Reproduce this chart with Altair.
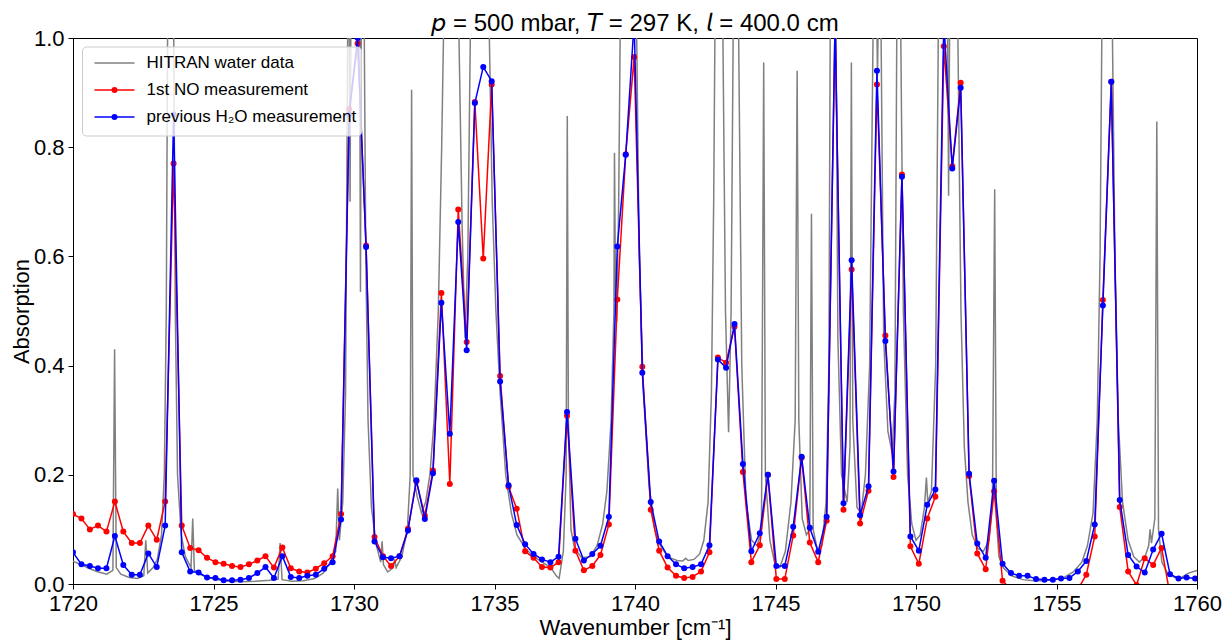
import altair as alt
import pandas as pd

# measurement wavenumber grid (cm^-1)
wn = [1720.00, 1720.30, 1720.60, 1720.89, 1721.19, 1721.49, 1721.79, 1722.09, 1722.38, 1722.68,
      1722.98, 1723.28, 1723.58, 1723.87, 1724.17, 1724.47, 1724.77, 1725.07, 1725.36, 1725.66,
      1725.96, 1726.26, 1726.56, 1726.85, 1727.15, 1727.45, 1727.75, 1728.05, 1728.34, 1728.64,
      1728.94, 1729.24, 1729.54, 1729.83, 1730.13, 1730.43, 1730.73, 1731.03, 1731.32, 1731.62,
      1731.92, 1732.22, 1732.52, 1732.81, 1733.11, 1733.41, 1733.71, 1734.01, 1734.30, 1734.60,
      1734.90, 1735.20, 1735.50, 1735.79, 1736.09, 1736.39, 1736.69, 1736.99, 1737.28, 1737.58,
      1737.88, 1738.18, 1738.48, 1738.77, 1739.07, 1739.37, 1739.67, 1739.97, 1740.26, 1740.56,
      1740.86, 1741.16, 1741.46, 1741.75, 1742.05, 1742.35, 1742.65, 1742.95, 1743.24, 1743.54,
      1743.84, 1744.14, 1744.44, 1744.73, 1745.03, 1745.33, 1745.63, 1745.93, 1746.22, 1746.52,
      1746.82, 1747.12, 1747.42, 1747.71, 1748.01, 1748.31, 1748.61, 1748.91, 1749.20, 1749.50,
      1749.80, 1750.10, 1750.40, 1750.69, 1750.99, 1751.29, 1751.59, 1751.89, 1752.18, 1752.48,
      1752.78, 1753.08, 1753.38, 1753.67, 1753.97, 1754.27, 1754.57, 1754.87, 1755.16, 1755.46,
      1755.76, 1756.06, 1756.36, 1756.65, 1756.95, 1757.25, 1757.55, 1757.85, 1758.14, 1758.44,
      1758.74, 1759.04, 1759.34, 1759.63, 1759.93]

# 1st NO measurement
no_meas = [0.128, 0.120, 0.100, 0.107, 0.096, 0.151, 0.096, 0.075, 0.075, 0.107,
           0.081, 0.151, 0.770, 0.107, 0.066, 0.062, 0.048, 0.040, 0.037, 0.033,
           0.031, 0.036, 0.043, 0.051, 0.030, 0.067, 0.029, 0.023, 0.021, 0.028,
           0.038, 0.051, 0.128, 0.870, 0.990, 0.620, 0.086, 0.051, 0.033, 0.051,
           0.101, 0.188, 0.125, 0.208, 0.533, 0.183, 0.686, 0.443, 0.883, 0.596,
           0.915, 0.381, 0.178, 0.138, 0.060, 0.048, 0.031, 0.030, 0.040, 0.308,
           0.061, 0.025, 0.033, 0.053, 0.109, 0.521, 0.787, 0.965, 0.398, 0.136,
           0.061, 0.030, 0.015, 0.011, 0.013, 0.023, 0.058, 0.415, 0.405, 0.471,
           0.205, 0.040, 0.071, 0.200, 0.009, 0.009, 0.089, 0.231, 0.076, 0.040,
           0.116, 1.030, 0.136, 0.576, 0.111, 0.171, 0.915, 0.455, 0.196, 0.750,
           0.069, 0.037, 0.120, 0.160, 0.985, 0.765, 0.918, 0.198, 0.056, 0.027,
           0.170, 0.006, -0.010, -0.020, -0.030, -0.030, -0.030, -0.030, -0.025, -0.020,
           -0.010, 0.017, 0.087, 0.520, 0.920, 0.141, 0.023, -0.002, 0.047, 0.035,
           0.066, -0.020, -0.030, -0.030, -0.030]

# previous H2O measurement
h2o_meas = [0.058, 0.036, 0.033, 0.029, 0.029, 0.088, 0.035, 0.017, 0.017, 0.056,
            0.031, 0.107, 0.860, 0.058, 0.023, 0.021, 0.012, 0.011, 0.007, 0.007,
            0.008, 0.011, 0.020, 0.031, 0.011, 0.051, 0.013, 0.011, 0.015, 0.017,
            0.028, 0.040, 0.118, 0.860, 1.000, 0.617, 0.078, 0.049, 0.047, 0.051,
            0.098, 0.190, 0.119, 0.203, 0.515, 0.275, 0.663, 0.428, 0.881, 0.947,
            0.921, 0.371, 0.181, 0.108, 0.073, 0.055, 0.045, 0.040, 0.050, 0.315,
            0.083, 0.043, 0.055, 0.070, 0.123, 0.618, 0.786, 1.030, 0.387, 0.150,
            0.078, 0.051, 0.036, 0.029, 0.031, 0.036, 0.071, 0.411, 0.396, 0.476,
            0.220, 0.060, 0.093, 0.200, 0.033, 0.033, 0.105, 0.233, 0.103, 0.059,
            0.123, 1.030, 0.148, 0.593, 0.126, 0.179, 0.940, 0.445, 0.206, 0.746,
            0.087, 0.061, 0.145, 0.173, 1.030, 0.761, 0.909, 0.202, 0.074, 0.048,
            0.189, 0.037, 0.020, 0.015, 0.015, 0.009, 0.008, 0.008, 0.010, 0.011,
            0.023, 0.042, 0.109, 0.510, 0.920, 0.154, 0.053, 0.032, 0.021, 0.063,
            0.092, 0.018, 0.010, 0.012, 0.010]

# HITRAN water spectrum (traced)
hitran_x = [1720.00, 1720.30, 1720.60, 1720.90, 1721.20, 1721.42, 1721.48, 1721.54, 1721.70, 1722.00,
            1722.30, 1722.52, 1722.59, 1722.66, 1722.85, 1723.00, 1723.15, 1723.25, 1723.32, 1723.37,
            1723.58, 1723.64, 1723.72, 1723.85, 1724.00, 1724.20, 1724.26, 1724.32, 1724.50, 1724.80,
            1725.10, 1725.50, 1726.00, 1726.50, 1727.00, 1727.30, 1727.37, 1727.44, 1727.80, 1728.20,
            1728.60, 1728.90, 1729.10, 1729.35, 1729.42, 1729.48, 1729.60, 1729.70, 1729.78, 1729.83,
            1729.86, 1729.89, 1730.20, 1730.23, 1730.26, 1730.36, 1730.42, 1730.50, 1730.62, 1730.80,
            1730.95, 1731.00, 1731.05, 1731.20, 1731.40, 1731.45, 1731.50, 1731.70, 1731.90, 1732.00,
            1732.05, 1732.10, 1732.25, 1732.40, 1732.55, 1732.70, 1732.85, 1733.00, 1733.12, 1733.20,
            1733.72, 1733.85, 1733.95, 1734.05, 1734.15, 1734.80, 1734.92, 1735.05, 1735.20, 1735.40,
            1735.60, 1735.80, 1736.10, 1736.40, 1736.70, 1737.00, 1737.20, 1737.30, 1737.45, 1737.55,
            1737.59, 1737.63, 1737.72, 1737.85, 1738.10, 1738.40, 1738.65, 1738.85, 1739.00, 1739.15,
            1739.25, 1739.27, 1739.31, 1739.35, 1739.42, 1739.48, 1740.05, 1740.15, 1740.30, 1740.50,
            1740.70, 1740.90, 1741.10, 1741.30, 1741.50, 1741.70, 1741.80, 1741.90, 1742.10, 1742.30,
            1742.45, 1742.60, 1742.72, 1742.80, 1742.85, 1743.12, 1743.22, 1743.33, 1743.42, 1743.50,
            1743.68, 1743.80, 1743.95, 1744.15, 1744.35, 1744.50, 1744.58, 1744.64, 1744.80, 1745.00,
            1745.15, 1745.35, 1745.55, 1745.70, 1745.77, 1745.83, 1745.95, 1746.10, 1746.22, 1746.28,
            1746.34, 1746.50, 1746.65, 1746.80, 1746.90, 1746.95, 1747.15, 1747.22, 1747.35, 1747.55,
            1747.65, 1747.70, 1747.75, 1747.90, 1748.05, 1748.20, 1748.35, 1748.48, 1748.60, 1748.63,
            1748.66, 1748.75, 1748.85, 1749.00, 1749.15, 1749.25, 1749.32, 1749.45, 1749.55, 1749.70,
            1749.85, 1750.00, 1750.15, 1750.30, 1750.37, 1750.42, 1750.55, 1750.70, 1750.80, 1751.12,
            1751.16, 1751.20, 1751.48, 1751.60, 1751.72, 1751.85, 1752.00, 1752.20, 1752.40, 1752.60,
            1752.72, 1752.80, 1752.86, 1752.95, 1753.10, 1753.40, 1753.80, 1754.20, 1754.60, 1755.00,
            1755.30, 1755.60, 1755.90, 1756.10, 1756.30, 1756.45, 1756.55, 1756.62, 1756.98, 1757.08,
            1757.20, 1757.35, 1757.55, 1757.75, 1757.95, 1758.15, 1758.28, 1758.33, 1758.38, 1758.50,
            1758.57, 1758.63, 1758.75, 1758.95, 1759.20, 1759.45, 1759.70, 1760.00]
hitran_y = [0.042, 0.035, 0.028, 0.022, 0.018, 0.025, 0.430, 0.030, 0.018, 0.012,
            0.010, 0.015, 0.080, 0.020, 0.030, 0.045, 0.090, 0.200, 0.500, 1.050,
            1.050, 0.500, 0.200, 0.090, 0.050, 0.030, 0.120, 0.025, 0.018, 0.012,
            0.008, 0.005, 0.004, 0.005, 0.007, 0.009, 0.075, 0.008, 0.005, 0.006,
            0.010, 0.020, 0.035, 0.060, 0.175, 0.080, 0.150, 0.350, 1.050, 1.050,
            0.700, 1.050, 1.050, 0.535, 1.050, 1.050, 0.600, 0.300, 0.140, 0.070,
            0.040, 0.078, 0.035, 0.022, 0.030, 0.045, 0.030, 0.050, 0.100, 0.200,
            0.905, 0.200, 0.160, 0.130, 0.150, 0.200, 0.300, 0.500, 0.800, 1.050,
            1.050, 0.650, 0.450, 0.600, 1.050, 1.050, 0.700, 0.500, 0.350, 0.200,
            0.130, 0.090, 0.065, 0.050, 0.040, 0.030, 0.015, 0.010, 0.060, 0.200,
            0.857, 0.300, 0.100, 0.065, 0.048, 0.050, 0.070, 0.110, 0.170, 0.300,
            0.500, 0.790, 0.500, 0.480, 0.700, 1.050, 1.050, 0.600, 0.350, 0.180,
            0.100, 0.070, 0.055, 0.047, 0.043, 0.042, 0.047, 0.043, 0.045, 0.055,
            0.080, 0.150, 0.350, 0.700, 1.050, 1.050, 0.500, 0.278, 0.500, 1.050,
            1.050, 0.400, 0.150, 0.080, 0.070, 0.100, 0.955, 0.200, 0.080, 0.032,
            0.030, 0.060, 0.150, 0.300, 0.940, 0.300, 0.120, 0.090, 0.100, 0.678,
            0.100, 0.060, 0.070, 0.150, 0.400, 1.050, 1.050, 0.450, 0.200, 0.150,
            0.250, 0.955, 0.300, 0.140, 0.130, 0.200, 0.400, 1.050, 1.050, 0.930,
            1.050, 1.050, 0.450, 0.280, 0.240, 0.350, 1.050, 1.050, 0.500, 0.200,
            0.110, 0.080, 0.090, 0.140, 0.195, 0.150, 0.170, 0.400, 1.050, 1.050,
            0.711, 1.050, 1.050, 0.500, 0.250, 0.150, 0.090, 0.065, 0.060, 0.080,
            0.150, 0.723, 0.120, 0.050, 0.030, 0.015, 0.008, 0.006, 0.006, 0.009,
            0.013, 0.022, 0.040, 0.070, 0.130, 0.300, 0.600, 1.050, 1.050, 0.600,
            0.300, 0.150, 0.080, 0.050, 0.040, 0.050, 0.070, 0.100, 0.075, 0.120,
            0.847, 0.100, 0.040, 0.020, 0.012, 0.012, 0.020, 0.025]

legend_labels = ["HITRAN water data", "1st NO measurement", "previous H\u2082O measurement"]
legend_colors = ["#808080", "#ff0000", "#0000ff"]

FONT = "Liberation Sans"
W, H = 1124, 546

df_h = pd.DataFrame({"x": hitran_x, "y": hitran_y})
df_m = pd.DataFrame({"x": wn, "no": no_meas, "h2o": h2o_meas})
one = pd.DataFrame({"a": [0]})

xs = alt.Scale(domain=[1720, 1760], nice=False, zero=False)
ys = alt.Scale(domain=[0, 1], nice=False)

xenc = alt.X("x:Q", scale=xs, axis=alt.Axis(
    title="Wavenumber [cm\u207b\u00b9]", values=list(range(1720, 1761, 5)), format="d",
    labelFlush=False, labelOverlap=False, labelBound=False, titlePadding=3))
yenc_kw = dict(scale=ys, axis=alt.Axis(
    title="Absorption", values=[0, 0.2, 0.4, 0.6, 0.8, 1.0], format=".1f",
    labelFlush=False, labelOverlap=False, labelBound=False, titlePadding=0))

gray = alt.Chart(df_h).mark_line(color=legend_colors[0], strokeWidth=1.5, clip=True).encode(
    x=xenc, y=alt.Y("y:Q", **yenc_kw))
red_l = alt.Chart(df_m).mark_line(color=legend_colors[1], strokeWidth=1.5, clip=True).encode(
    x="x:Q", y="no:Q")
red_p = alt.Chart(df_m).mark_circle(color=legend_colors[1], size=36, opacity=1, clip=True).encode(
    x="x:Q", y="no:Q")
blue_l = alt.Chart(df_m).mark_line(color=legend_colors[2], strokeWidth=1.5, clip=True).encode(
    x="x:Q", y="h2o:Q")
blue_p = alt.Chart(df_m).mark_circle(color=legend_colors[2], size=36, opacity=1, clip=True).encode(
    x="x:Q", y="h2o:Q")

# legend box (pixel positions inside plot area)
box = alt.Chart(one).mark_rect(fill="white", fillOpacity=0.8, stroke="#cccccc",
                               strokeWidth=1, cornerRadius=4).encode(
    x=alt.value(9.5), x2=alt.value(288.5), y=alt.value(9), y2=alt.value(98))
leg_layers = [box]
rows = [25, 52, 79]
for i, (lab, col) in enumerate(zip(legend_labels, legend_colors)):
    yy = rows[i]
    leg_layers.append(alt.Chart(one).mark_rule(color=col, strokeWidth=1.5).encode(
        x=alt.value(21.5), x2=alt.value(61.5), y=alt.value(yy)))
    if i > 0:
        leg_layers.append(alt.Chart(one).mark_circle(color=col, size=36, opacity=1).encode(
            x=alt.value(41.5), y=alt.value(yy)))
    leg_layers.append(alt.Chart(one).mark_text(align="left", baseline="middle", fontSize=17,
                                               font=FONT, color="black", text=lab).encode(
        x=alt.value(73.5), y=alt.value(yy)))

title_text = "\U0001D631 = 500 mbar, \U0001D61B = 297 K, \U0001D62D = 400.0 cm"

chart = alt.layer(gray, red_l, red_p, blue_l, blue_p, *leg_layers).properties(
    width=W, height=H,
    title=alt.TitleParams(title_text, fontSize=24, font=FONT, fontWeight="normal",
                          color="black", anchor="middle", offset=6, dy=15),
    autosize=alt.AutoSizeParams(type="none"),
    padding={"left": 73, "top": 38, "right": 32, "bottom": 59},
).configure_view(stroke="black", strokeWidth=1).configure_axis(
    grid=False, domainColor="black", tickColor="black", tickSize=5, tickWidth=1,
    labelFont=FONT, titleFont=FONT, labelFontSize=22, titleFontSize=22,
    labelColor="black", titleColor="black", titleFontWeight="normal", labelPadding=4,
)

chart.save("out.html", embed_options={"renderer": "svg", "actions": False})
